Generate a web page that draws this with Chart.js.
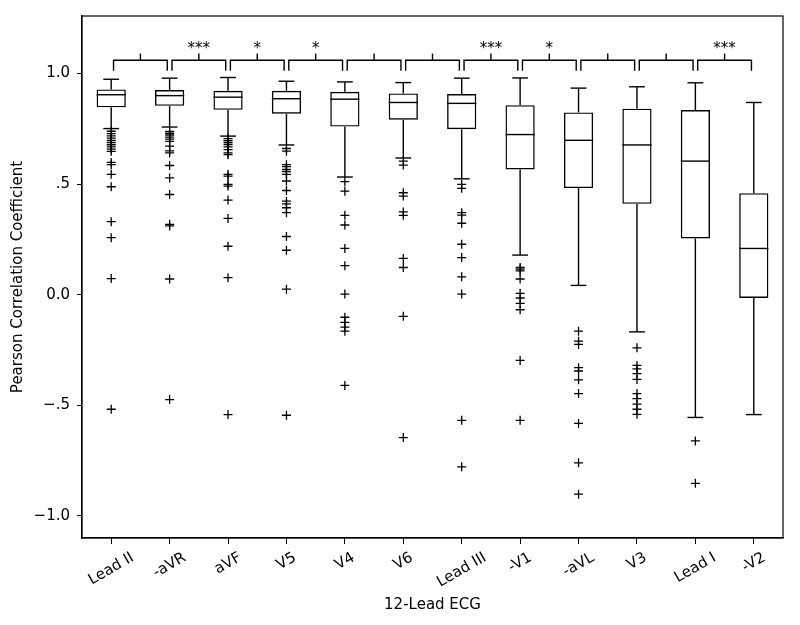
<!DOCTYPE html>
<html><head><meta charset="utf-8">
<script src="https://cdn.jsdelivr.net/npm/chart.js@4/dist/chart.umd.min.js"></script>
<style>html,body{margin:0;padding:0;background:#fff}</style>
</head><body>
<canvas id="c" width="800" height="625"></canvas>
<script>
const categories  = ['Lead II','-aVR','aVF','V5','V4','V6','Lead III','-V1','-aVL','V3','Lead I','-V2'];
const whiskerLow  = [0.751, 0.758, 0.717, 0.677, 0.532, 0.618, 0.524, 0.179, 0.042, -0.168, -0.555, -0.542];
const q1          = [0.847, 0.854, 0.836, 0.818, 0.760, 0.791, 0.748, 0.566, 0.482, 0.411, 0.254, -0.015];
const median      = [0.904, 0.900, 0.893, 0.886, 0.884, 0.869, 0.865, 0.724, 0.698, 0.677, 0.604, 0.209];
const q3          = [0.928, 0.925, 0.922, 0.922, 0.917, 0.910, 0.907, 0.857, 0.824, 0.841, 0.835, 0.459];
const whiskerHigh = [0.974, 0.979, 0.982, 0.965, 0.962, 0.959, 0.979, 0.980, 0.934, 0.940, 0.958, 0.869];
const outliers = [
  [0.739,0.728,0.718,0.708,0.698,0.688,0.678,0.668,0.658,0.648,0.598,0.588,0.544,0.488,0.330,0.258,0.073,-0.518],
  [0.738,0.730,0.722,0.712,0.703,0.693,0.672,0.650,0.641,0.584,0.528,0.453,0.318,0.311,0.071,-0.474],
  [0.706,0.697,0.688,0.679,0.668,0.656,0.641,0.633,0.544,0.536,0.499,0.491,0.428,0.345,0.219,0.077,-0.542],
  [0.661,0.649,0.588,0.579,0.566,0.556,0.544,0.514,0.471,0.423,0.411,0.393,0.371,0.263,0.201,0.025,-0.545],
  [0.511,0.468,0.359,0.315,0.209,0.131,0.003,-0.102,-0.125,-0.147,-0.165,-0.410],
  [0.604,0.586,0.461,0.446,0.374,0.359,0.164,0.123,-0.098,-0.646],
  [0.499,0.481,0.371,0.360,0.323,0.228,0.168,0.081,0.003,-0.568,-0.778],
  [0.123,0.116,0.108,0.071,0.006,-0.015,-0.039,-0.068,-0.297,-0.568],
  [-0.165,-0.210,-0.225,-0.330,-0.345,-0.385,-0.447,-0.582,-0.760,-0.902],
  [-0.240,-0.320,-0.335,-0.357,-0.383,-0.447,-0.470,-0.495,-0.518,-0.541],
  [-0.661,-0.853],
  []
];
// significance between neighbouring leads (i, i+1)
const sigLabels = ['','***','*','*','','','***','*','','','***'];
const yTickValues = [-1, -0.5, 0, 0.5, 1];
const yTickLabels = ['\u22121.0','\u2212.5','0.0','.5','1.0'];

const FONT = "'DejaVu Sans', sans-serif";
const LW = 1.4;

const boxParts = {
  id: 'boxParts',
  afterDatasetsDraw(chart) {
    const {ctx, scales: {x, y}} = chart;
    const step = x.getPixelForValue(1) - x.getPixelForValue(0);
    const line = (x1, y1, x2, y2) => { ctx.beginPath(); ctx.moveTo(x1, y1); ctx.lineTo(x2, y2); ctx.stroke(); };
    ctx.save();
    ctx.strokeStyle = '#000'; ctx.lineWidth = LW; ctx.lineCap = 'butt';
    categories.forEach((c, i) => {
      const cx = x.getPixelForValue(i);
      const hw = step * 0.25, cw = step * 0.135;
      const yH = y.getPixelForValue(whiskerHigh[i]), yL = y.getPixelForValue(whiskerLow[i]);
      const y3 = y.getPixelForValue(q3[i]), y1 = y.getPixelForValue(q1[i]), ym = y.getPixelForValue(median[i]);
      line(cx, y3, cx, yH); line(cx - cw, yH, cx + cw, yH);
      line(cx, y1, cx, yL); line(cx - cw, yL, cx + cw, yL);
      line(cx - hw, ym, cx + hw, ym);
    });
    // significance brackets
    ctx.fillStyle = '#000';
    ctx.font = '15px ' + FONT; ctx.textAlign = 'center'; ctx.textBaseline = 'alphabetic';
    sigLabels.forEach((lab, i) => {
      const xa = x.getPixelForValue(i + 0.04), xb = x.getPixelForValue(i + 0.96), xm = x.getPixelForValue(i + 0.5);
      const yLeg = y.getPixelForValue(1.012), yBar = y.getPixelForValue(1.06), yTop = y.getPixelForValue(1.09);
      ctx.beginPath(); ctx.moveTo(xa, yLeg); ctx.lineTo(xa, yBar); ctx.lineTo(xb, yBar); ctx.lineTo(xb, yLeg); ctx.stroke();
      line(xm, yBar, xm, yTop);
      if (lab) ctx.fillText(lab, xm, yTop - 1);
    });
    ctx.restore();
  },
  afterDraw(chart) {
    const {ctx, chartArea: a, scales: {x}} = chart;
    ctx.save();
    ctx.strokeStyle = '#000'; ctx.lineWidth = 1.2;
    ctx.strokeRect(a.left, a.top, a.right - a.left, a.bottom - a.top);
    // rotated, centred category labels
    ctx.fillStyle = '#000'; ctx.font = '15px ' + FONT;
    ctx.textAlign = 'center'; ctx.textBaseline = 'middle';
    const ang = Math.PI / 6, h = 15 * 1.17;
    categories.forEach((c, i) => {
      const w = ctx.measureText(c).width;
      const bh = w * Math.sin(ang) + h * Math.cos(ang);
      const cx = x.getPixelForValue(i), cy = a.bottom + 11 + bh / 2;
      ctx.save(); ctx.translate(cx, cy); ctx.rotate(-ang); ctx.fillText(c, 0, 0); ctx.restore();
    });
    ctx.restore();
  }
};

const outlierPoints = [];
outliers.forEach((arr, i) => arr.forEach(v => outlierPoints.push({x: categories[i], y: v})));

new Chart(document.getElementById('c'), {
  type: 'bar',
  data: {
    labels: categories,
    datasets: [
      {
        type: 'bar',
        data: categories.map((c, i) => [q1[i], q3[i]]),
        backgroundColor: 'rgba(255,255,255,0)',
        borderColor: '#000', borderWidth: LW, borderSkipped: false,
        barPercentage: 0.5, categoryPercentage: 1.0
      },
      {
        type: 'scatter',
        data: outlierPoints,
        pointStyle: 'cross', pointRadius: 4.5, pointHoverRadius: 4.5,
        borderColor: '#000', backgroundColor: '#000', pointBorderWidth: 1.3, borderWidth: 1.3
      }
    ]
  },
  options: {
    responsive: false, animation: false,
    layout: {padding: {top: 15, right: 17, left: 0, bottom: 0}},
    plugins: {legend: {display: false}, tooltip: {enabled: false}},
    scales: {
      x: {
        type: 'category', offset: true,
        grid: {display: true, offset: false, drawOnChartArea: false, drawTicks: true, tickLength: 6, color: '#000', lineWidth: 1},
        border: {display: true, color: '#000', width: 1.2},
        ticks: {display: false},
        title: {display: true, text: '12-Lead ECG', color: '#000', font: {family: FONT, size: 15}, padding: {top: 0, bottom: 11}},
        afterFit(s) { s.height = 87; }
      },
      y: {
        min: -1.1, max: 1.26,
        afterBuildTicks(s) { s.ticks = yTickValues.map(v => ({value: v})); },
        grid: {display: true, drawOnChartArea: false, drawTicks: true, tickLength: 5, color: '#000', lineWidth: 1},
        border: {display: true, color: '#000', width: 1.2},
        ticks: {
          color: '#000', font: {family: FONT, size: 15}, padding: 7,
          callback: (v) => { const k = yTickValues.indexOf(v); return k >= 0 ? yTickLabels[k] : ''; }
        },
        title: {display: true, text: 'Pearson Correlation Coefficient', color: '#000', font: {family: FONT, size: 15}, padding: {top: 9, bottom: 0}},
        afterFit(s) { s.width = 82; }
      }
    }
  },
  plugins: [boxParts]
});
</script>
</body></html>
